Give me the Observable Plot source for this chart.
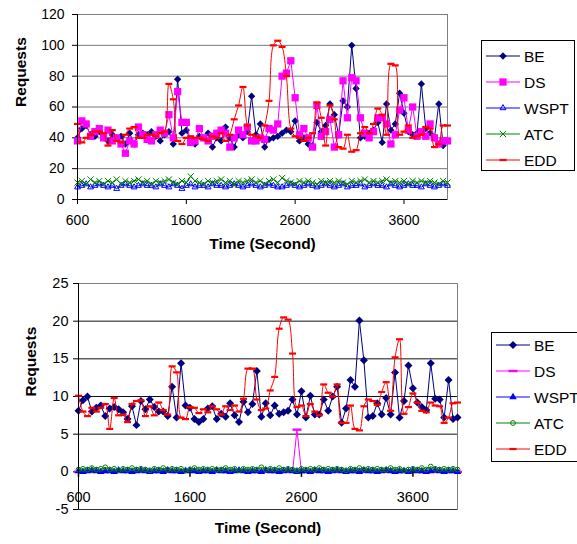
<!DOCTYPE html>
<html><head><meta charset="utf-8">
<script src="https://cdn.jsdelivr.net/npm/d3@7"></script>
<script src="https://cdn.jsdelivr.net/npm/@observablehq/plot@0.6"></script>
<style>
body{margin:0;background:#fff;width:577px;height:544px;overflow:hidden;position:relative;font-family:"Liberation Sans",Arial,sans-serif}
#c1{position:absolute;left:0;top:0}
#c2{position:absolute;left:0;top:270px}
.legend{position:absolute;border:1px solid #000;background:#fff;box-sizing:border-box;overflow:hidden}
</style></head><body>
<div id="c1"></div><div id="c2"></div>
<div id="l1" class="legend"></div><div id="l2" class="legend"></div>
<script>
const times = d3.range(600, 4001, 40);
const xTicks = [600, 1600, 2600, 3600];
const topYTicks = [0, 20, 40, 60, 80, 100, 120];
const botYTicks = [-5, 0, 5, 10, 15, 20, 25];
const seriesNames = ["BE", "DS", "WSPT", "ATC", "EDD"];

// Top chart values
const tBE = [40,46,48,42,41,44,40,38,42,40,
 41,36,43,36,42,43,42,44,41,38,
 42,44,36,78,43,45,38,36,41,40,
 43,34,40,38,47,40,34,42,40,44,
 67,42,49,34,39,40,41,43,45,44,
 51,38,40,36,35,50,44,48,62,55,
 42,64,60,100,72,40,41,43,45,50,
 37,62,45,49,69,56,44,42,43,75,
 46,43,40,62,35,38];
const tDS = [38,51,49,41,44,46,40,45,38,40,
 36,30,38,36,47,42,39,38,42,45,
 43,55,40,70,50,50,37,38,46,40,
 38,41,43,45,43,34,40,45,42,47,
 38,38,40,39,46,45,49,80,82,90,
 66,42,46,40,34,61,41,44,52,34,
 42,77,53,79,77,53,43,40,44,53,
 53,49,36,42,58,66,45,60,41,44,
 41,49,40,36,38,38];
const tWSPT = [8,9,10,8,9,10,9,8,9,7,
 9,10,9,8,9,10,9,9,8,10,
 9,8,10,9,7,9,10,8,9,9,
 8,10,9,9,8,9,10,9,8,9,
 10,9,8,9,10,9,8,8,9,10,
 9,8,9,10,9,8,9,10,9,8,
 9,10,8,9,9,10,8,9,10,9,
 9,8,10,9,8,9,10,9,9,8,
 10,9,8,9,10,9];
const tATC = [11,12,10,13,11,12,10,12,11,13,
 10,12,11,12,13,11,12,10,12,11,
 12,13,11,10,12,11,15,12,11,10,
 12,11,12,13,11,12,10,12,11,12,
 13,11,12,10,12,13,11,14,12,11,
 10,12,11,12,11,10,12,11,12,11,
 12,11,10,12,11,12,13,11,12,11,
 12,13,11,12,11,12,10,12,11,12,
 11,12,11,10,12,11];
const tEDD = [49,37,40,42,44,44,43,35,45,38,
 37,42,46,47,40,40,42,42,41,43,
 44,75,65,38,36,40,41,40,40,39,
 38,41,40,43,38,42,52,61,73,48,
 42,41,40,48,64,100,103,99,80,46,
 41,40,38,40,43,63,53,35,61,52,
 34,33,42,31,32,43,47,43,49,59,
 55,42,88,87,42,44,48,40,41,42,
 47,46,34,36,48,48];

// Bottom chart values
const bBE = [8.1,9.5,10,8,8.5,8.8,7.4,8.4,8.6,8.3,
 7.9,7,8.7,6.2,9.4,8.3,9.6,8.6,8,8,
 7.4,11.3,7.2,14.4,8.8,8.5,7,6.6,7,8.4,
 8.7,7,7.7,7.3,9.1,7.5,6.6,9.3,7.9,9,
 13.4,7.3,9.1,7.5,8.8,7.7,7.9,8.1,9.6,7.6,
 10.7,7.2,10.1,7.6,7.6,9.6,8.1,10,11.3,6.5,
 8.4,12.2,11.3,20.1,14.8,7.2,7.4,9.1,7.6,9.8,
 7.6,13.2,7.2,9.4,14.1,11.1,9.2,8.6,8.2,14.4,
 9.7,9.6,7.2,12.2,7,7.2];
const bDS = [0,0,0,0,0,0,0,0,0,0,
 0,0,0,0,0,0,0,0,0,0,
 0,0,0,0,0,0,0,0,0,0,
 0,0,0,0,0,0,0,0,0,0,
 0,0,0,0,0,0,0,0,0,5.6,
 0,0,0,0,0,0,0,0,0,0,
 0,0,0,0,0,0,0,0,0,0,
 0,0,0,0,0,0,0,0,0,0,
 0,0,0,0,0,0];
const bWSPT = [0.1,0.0,0.1,0.2,0.1,0.0,0.1,0.1,0.0,0.2,
 0.1,0.1,0.0,0.1,0.2,0.1,0.0,0.1,0.1,0.0,
 0.2,0.1,0.1,0.0,0.1,0.2,0.1,0.0,0.1,0.1,
 0.0,0.2,0.1,0.1,0.0,0.1,0.2,0.1,0.0,0.1,
 0.1,0.0,0.2,0.1,0.1,0.0,0.1,0.2,0.1,0.0,
 0.1,0.1,0.0,0.2,0.1,0.1,0.0,0.1,0.2,0.1,
 0.0,0.1,0.1,0.0,0.2,0.1,0.1,0.0,0.1,0.2,
 0.1,0.0,0.1,0.1,0.0,0.2,0.1,0.1,0.0,0.1,
 0.2,0.1,0.0,0.1,0.1,0.0];
const bATC = [0.3,0.4,0.3,0.5,0.3,0.4,0.6,0.3,0.4,0.2,
 0.4,0.3,0.5,0.3,0.4,0.3,0.2,0.4,0.3,0.5,
 0.3,0.4,0.3,0.4,0.2,0.3,0.5,0.3,0.4,0.3,
 0.4,0.3,0.3,0.5,0.3,0.4,0.2,0.4,0.3,0.4,
 0.3,0.6,0.3,0.4,0.3,0.5,0.3,0.4,0.3,0.2,
 0.4,0.3,0.4,0.3,0.5,0.3,0.4,0.3,0.4,0.3,
 0.2,0.4,0.3,0.5,0.3,0.4,0.3,0.4,0.3,0.3,
 0.5,0.3,0.4,0.2,0.3,0.4,0.3,0.5,0.3,0.7,
 0.4,0.3,0.4,0.3,0.4,0.3];
const bEDD = [10.1,8,7.4,8.5,8,8.5,9,5.7,9.8,7.5,
 7.6,6.6,9,9.4,9.5,7.4,8.7,7.5,9.2,8.2,
 7.6,14,13.2,7.2,7,8.6,8.5,7.8,8.3,7.9,
 8.7,8.3,7.6,8.7,8.2,8.8,8,9.7,13.7,13.7,
 9.6,8.2,8.4,10.8,12.6,19,20.5,20.2,15.7,8.6,
 8.8,7.4,9,8,7.5,11.6,10.5,10,11.6,6.5,
 6.5,8.8,5.7,5.5,8.7,9.6,9.4,8.9,10.6,11.9,
 8.1,15.2,17.6,7.7,8.6,10.4,9.2,8.1,7.9,9.2,
 8.8,8.7,6.5,7.2,9.1,9.2];

const colors = {BE:"#000080", DS:"#FF00FF", WSPT:"#0000FF", ATC:"#008000", EDD:"#FF0000"};
const dash = {draw(ctx){ ctx.moveTo(-3.5,-1.1); ctx.lineTo(3.5,-1.1); ctx.lineTo(3.5,1.1); ctx.lineTo(-3.5,1.1); ctx.closePath(); }};
const dashWide = {draw(ctx){ ctx.moveTo(-4.5,-1.2); ctx.lineTo(4.5,-1.2); ctx.lineTo(4.5,1.2); ctx.lineTo(-4.5,1.2); ctx.closePath(); }};
const tickDown = {draw(ctx){ ctx.moveTo(0,0); ctx.lineTo(0,5); }};
const symbolMap = {diamond2:d3.symbolDiamond2, square:d3.symbolSquare, triangle2:d3.symbolTriangle2, times:d3.symbolTimes, triangle:d3.symbolTriangle, circle:d3.symbolCircle};

const topStyles = {
  BE:{symbol:"diamond2", r:3.3, fill:colors.BE, stroke:"none"},
  DS:{symbol:"square", r:4.1, fill:colors.DS, stroke:"none"},
  WSPT:{symbol:"triangle2", r:2.8, fill:"none", stroke:colors.WSPT, strokeWidth:1},
  ATC:{symbol:"times", r:2.9, fill:"none", stroke:colors.ATC, strokeWidth:1},
  EDD:{symbol:dash, r:3, fill:colors.EDD, stroke:"none"}
};
const botStyles = {
  BE:{symbol:"diamond2", r:3.6, fill:colors.BE, stroke:"none"},
  DS:{symbol:dashWide, r:3, fill:colors.DS, stroke:"none"},
  WSPT:{symbol:"triangle", r:2.8, fill:colors.WSPT, stroke:"none"},
  ATC:{symbol:"circle", r:2.4, fill:"none", stroke:colors.ATC, strokeWidth:1},
  EDD:{symbol:dash, r:3, fill:colors.EDD, stroke:"none"}
};

function rows(arr){ return times.map((t, i) => ({t, v: arr[i]})); }
function seriesMarks(name, arr, st){
  const d = rows(arr);
  return [
    Plot.line(d, {x:"t", y:"v", stroke:colors[name], strokeWidth:1, curve: name === "EDD" ? "catmull-rom" : "linear"}),
    Plot.dot(d, {x:"t", y:"v", ...st})
  ];
}

const font = '"Liberation Sans", Arial, sans-serif';
const topData = {BE:tBE, DS:tDS, WSPT:tWSPT, ATC:tATC, EDD:tEDD};
const botData = {BE:bBE, DS:bDS, WSPT:bWSPT, ATC:bATC, EDD:bEDD};

const p1 = Plot.plot({
  width:465, height:262, marginLeft:77, marginRight:18, marginTop:14, marginBottom:63,
  style:{fontFamily:font, fontSize:"14px", background:"transparent", color:"#000", overflow:"visible"},
  x:{domain:[600,4000], ticks:xTicks, tickFormat:d=>String(d), tickSize:5, tickPadding:11, label:null},
  y:{domain:[0,120], ticks:topYTicks, tickFormat:d=>String(d), tickSize:5, tickPadding:8, label:null},
  marks:[
    Plot.ruleY(topYTicks.filter(d => d > 0), {stroke:"#777"}),
    Plot.frame({stroke:"#808080"}),
    ...seriesNames.flatMap(n => seriesMarks(n, topData[n], topStyles[n])),
    Plot.ruleX([600], {stroke:"#000"}),
    Plot.ruleY([0], {stroke:"#000"}),
    Plot.text(["Requests"], {text:d=>d, frameAnchor:"left", dx:-56, rotate:-90, fontWeight:"bold", fontSize:15.5}),
    Plot.text(["Time (Second)"], {text:d=>d, frameAnchor:"bottom", dy:49, fontWeight:"bold", fontSize:15.5})
  ]
});
document.getElementById("c1").appendChild(p1);

const p2 = Plot.plot({
  width:470, height:274, marginLeft:78, marginRight:13, marginTop:13, marginBottom:35,
  style:{fontFamily:font, fontSize:"14.5px", background:"transparent", color:"#000", overflow:"visible"},
  x:{domain:[600,4000], axis:null},
  y:{domain:[-5,25], ticks:botYTicks, tickFormat:d=>String(d), tickSize:5, tickPadding:5, label:null},
  marks:[
    Plot.ruleY(botYTicks.filter(d => d !== 0), {stroke:"#111"}),
    Plot.frame({stroke:"#808080"}),
    Plot.ruleY([-5], {stroke:"#333"}),
    ...seriesNames.flatMap(n => seriesMarks(n, botData[n], botStyles[n])),
    Plot.ruleX([600], {stroke:"#000"}),
    Plot.dot(xTicks, {x:d=>d, y:()=>0, symbol:tickDown, stroke:"#000", fill:"none"}),
    Plot.text(xTicks, {x:d=>d, y:()=>0, dy:26, text:d=>String(d), fontSize:14.5}),
    Plot.text(["Requests"], {text:d=>d, frameAnchor:"left", dx:-47, rotate:-90, fontWeight:"bold", fontSize:15.5}),
    Plot.text(["Time (Second)"], {text:d=>d, frameAnchor:"bottom", dy:23, fontWeight:"bold", fontSize:15.5})
  ]
});
document.getElementById("c2").appendChild(p2);

function legend(id, box, styles){
  const div = document.getElementById(id);
  Object.assign(div.style, {left:box.x+"px", top:box.y+"px", width:box.w+"px", height:box.h+"px"});
  const svg = d3.select(div).append("svg").attr("width", box.w+20).attr("height", box.h)
    .style("position","absolute").style("left","0").style("top","0");
  seriesNames.forEach((name, k) => {
    const st = styles[name];
    const g = svg.append("g").attr("transform", `translate(0,${box.y0 + k*box.dy})`);
    g.append("line").attr("x1", 4).attr("x2", 38).attr("stroke", colors[name]).attr("stroke-width", 1);
    const sym = typeof st.symbol === "string" ? symbolMap[st.symbol] : st.symbol;
    g.append("path").attr("transform", "translate(21,0)")
      .attr("d", d3.symbol(sym, Math.PI*st.r*st.r)())
      .attr("fill", st.fill).attr("stroke", st.stroke).attr("stroke-width", st.strokeWidth || 0);
    g.append("text").attr("x", 42).attr("dy", "0.36em").attr("font-family", font).attr("font-size", 15.5)
      .attr("fill", "#000").text(name);
  });
}
legend("l1", {x:481, y:40, w:94, h:131, y0:15, dy:26}, topStyles);
legend("l2", {x:491, y:332, w:100, h:130, y0:12, dy:26}, botStyles);
</script></body></html>
